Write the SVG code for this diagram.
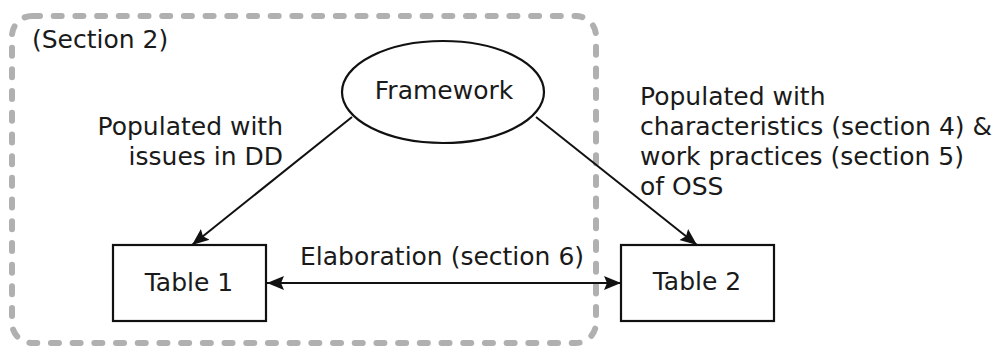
<svg xmlns="http://www.w3.org/2000/svg" width="994" height="347" viewBox="0 0 994 347">
<style>
text{font-family:"DejaVu Sans",Verdana,sans-serif;font-size:25px;fill:#1a1a1a}
.box{fill:#fff;stroke:#111;stroke-width:2.2}
.edge{fill:none;stroke:#111;stroke-width:2}
.group{fill:none;stroke:#b0b0b0;stroke-width:6;stroke-dasharray:8 13.7;stroke-linecap:round}
</style>
<defs>
<marker id="arr" markerUnits="userSpaceOnUse" markerWidth="19" markerHeight="16" refX="17" refY="8" orient="auto-start-reverse" viewBox="0 0 19 16">
<path d="M0,1 L17,8 L0,15 L3,8 z" fill="#111"/>
</marker>
</defs>
<g id="section-group">
<rect class="group" x="12" y="16" width="584" height="327" rx="20" ry="20"/>
<text x="32" y="48">(Section 2)</text>
</g>
<g id="connectors">
<line class="edge" x1="352" y1="117" x2="192" y2="245" marker-end="url(#arr)"/>
<line class="edge" x1="536" y1="117" x2="697" y2="245" marker-end="url(#arr)"/>
<line class="edge" x1="267" y1="283" x2="621" y2="283" marker-start="url(#arr)" marker-end="url(#arr)"/>
<text x="283" y="135" text-anchor="end">Populated with</text>
<text x="283" y="165" text-anchor="end">issues in DD</text>
<text x="300" y="265">Elaboration (section 6)</text>
<text x="640" y="105">Populated with</text>
<text x="640" y="135">characteristics (section 4) &amp;</text>
<text x="640" y="165">work practices (section 5)</text>
<text x="640" y="195">of OSS</text>
</g>
<g id="framework">
<ellipse class="box" cx="443" cy="92" rx="101" ry="51"/>
<text x="444" y="99" text-anchor="middle">Framework</text>
</g>
<g id="table1">
<rect class="box" x="113" y="245" width="153" height="76"/>
<text x="189" y="291" text-anchor="middle">Table 1</text>
</g>
<g id="table2">
<rect class="box" x="621" y="245" width="153" height="76"/>
<text x="697" y="290" text-anchor="middle">Table 2</text>
</g>
</svg>
